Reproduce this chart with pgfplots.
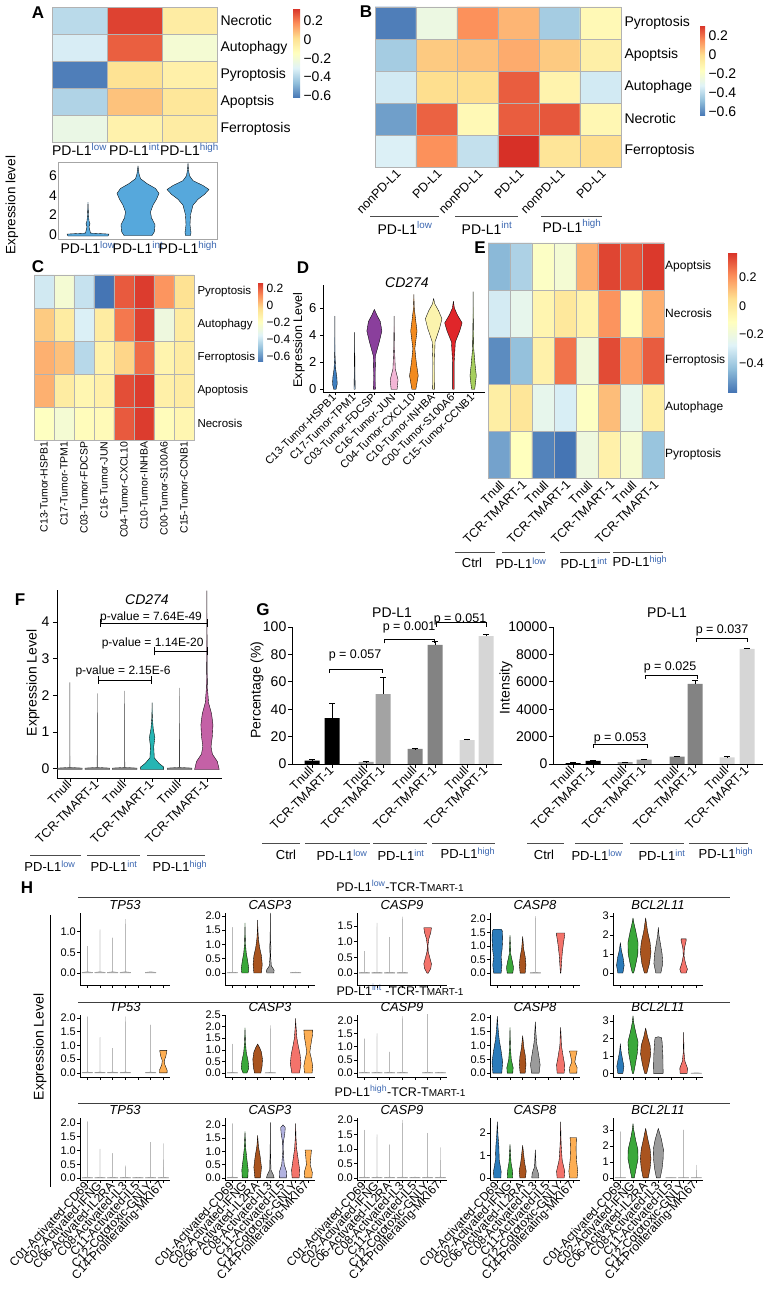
\documentclass[border=0pt]{standalone}
\usepackage{fontspec}
\setmainfont{Liberation Sans}
\usepackage{pgfplots}
\pgfplotsset{compat=1.18}
\usetikzlibrary{calc}

\definecolor{supblue}{HTML}{3A66B0}
\definecolor{vA}{HTML}{56A8DC}
\definecolor{d1}{HTML}{3F7FBF}
\definecolor{d2}{HTML}{A9C4E0}
\definecolor{d3}{HTML}{8A3F9C}
\definecolor{d4}{HTML}{F3B6D6}
\definecolor{d5}{HTML}{F28A1E}
\definecolor{d6}{HTML}{FBF3AD}
\definecolor{d7}{HTML}{E0262A}
\definecolor{d8}{HTML}{A6CF5D}
\definecolor{fteal}{HTML}{26B5B3}
\definecolor{fmag}{HTML}{C461A6}
\definecolor{hb}{HTML}{2B7BBA}
\definecolor{hg}{HTML}{3AA83A}
\definecolor{hbr}{HTML}{A9541F}
\definecolor{hgr}{HTML}{9B9B9B}
\definecolor{hl}{HTML}{B2B2E0}
\definecolor{hs}{HTML}{F3736B}
\definecolor{ho}{HTML}{FDAE53}
\definecolor{glow}{HTML}{A3A3A3}
\definecolor{gint}{HTML}{838383}
\definecolor{ghigh}{HTML}{D6D6D6}

\newcommand\Y[1]{\the\numexpr1291-#1\relax}
\newcommand\fs[1]{\fontsize{#1}{#1}\selectfont}
\newcommand\pdl[1]{PD-L1\textsuperscript{\color{supblue}#1}}

% violin: [draw opts]{position}{fill}{y/halfwidth list}
\newcommand\violin[4][draw=black]{%
  \gdef\vR{}\gdef\vL{}\gdef\vF{}%
  \foreach \yy/\ww in {#4}{%
    \pgfmathsetmacro\xr{#2+\ww}\pgfmathsetmacro\xl{#2-\ww}%
    \ifx\vF\empty\xdef\vF{(\xr,\yy)}\fi
    \xdef\vR{\vR(\xr,\yy)}\xdef\vL{(\xl,\yy)\vL}}%
  \edef\vtmp{\noexpand\addplot[#1,fill=#3,line width=0.35pt,line join=round] coordinates {\vR\vL\vF};}\vtmp}
\newcommand\thn[2]{\violin[draw=gray!80]{#1}{gray!60}{0/0.42,0.015/0.42,0.03/0.005,#2/0}}
\newcommand\thnF[2]{\violin[draw=black!75]{#1}{black!50}{-0.02/0.45,0.02/0.45,0.04/0.005,#2/0}}

\pgfplotsset{
  /pgf/number format/assume math mode=true,
  colormap={rdylbu}{rgb255=(69,117,180) rgb255=(145,191,219) rgb255=(224,243,248) rgb255=(255,255,191) rgb255=(254,224,144) rgb255=(252,141,89) rgb255=(215,48,39)},
  heat/.style={scale only axis, anchor=south west, enlargelimits=false,
    axis line style={gray!60, line width=0.7pt}, yticklabel pos=right,
    major tick length=0pt, minor tick length=0pt, xminorgrids, yminorgrids,
    minor grid style={gray!60, line width=0.7pt}, axis on top, colormap name=rdylbu},
  cb/.style={at={(parent axis.north east)}, anchor=north west, axis line style={draw=none},
    major tick length=0pt, ytick={-0.6,-0.4,-0.2,0,0.2}, yticklabels={−0.6,−0.4,−0.2,0,0.2}},
  hax/.style={scale only axis, anchor=south west, width=90pt, xmin=0.42, xmax=7.53,
    axis lines*=left, axis line style={line width=0.7pt}, tick align=outside,
    major tick length=3pt, xtick={1,...,7}, xticklabels={}, tick style={black, line width=0.6pt},
    yticklabel style={font=\fs{11}, inner sep=1pt},
    title style={font=\fs{13}\itshape, at={(0.5,1)}, anchor=south, yshift=-4pt, inner sep=1pt}},
  dec/.style={yticklabel style={/pgf/number format/fixed, /pgf/number format/fixed zerofill, /pgf/number format/precision=1}},
  hlab/.style={xticklabels={C01-Activated-CD69,C02-Activated-IFNG,C06-Activated-IL2RA,C08-Activated-IL3,C11-Activated-IL5,C12-Cototoxic-GNLY,C14-Proliferating-MKI67},
    xticklabel style={rotate=47, anchor=east, font=\fs{12}, inner sep=1pt}},
  gbar/.style={scale only axis, anchor=south west, width=210pt, height=137pt, xmin=0, xmax=210,
    axis lines*=left, axis line style={line width=0.8pt}, tick align=outside, major tick length=4pt,
    tick style={black, line width=0.7pt}, clip=false, tick label style={font=\fs{14}},
    xticklabels={Tnull,TCR-TMART-1,Tnull,TCR-TMART-1,Tnull,TCR-TMART-1,Tnull,TCR-TMART-1},
    xticklabel style={rotate=45, anchor=east, font=\fs{12.5}, inner sep=1pt}},
  gb/.style={ybar, bar shift=0pt, bar width=15, draw=none, fill=#1,
    error bars/.cd, y dir=plus, y explicit, error bar style={black, line width=0.8pt},
    error mark options={rotate=90, black, mark size=3pt, line width=0.8pt}},
}

\begin{document}
\begin{tikzpicture}[x=1pt,y=1pt]
\useasboundingbox (0,0) rectangle (769,1291);

% ---------------- Panel letters
\node[font=\fs{17}\bfseries] at (38,\Y{13}) {A};
\node[font=\fs{17}\bfseries] at (366,\Y{12}) {B};
\node[font=\fs{17}\bfseries] at (38,\Y{267}) {C};
\node[font=\fs{17}\bfseries] at (303,\Y{268}) {D};
\node[font=\fs{17}\bfseries] at (480,\Y{248}) {E};
\node[font=\fs{17}\bfseries] at (20,\Y{600}) {F};
\node[font=\fs{17}\bfseries] at (263,\Y{610}) {G};
\node[font=\fs{17}\bfseries] at (27,\Y{888}) {H};

% ---------------- A heatmap
\begin{axis}[heat, at={(52pt,\Y{142}pt)}, width=165pt, height=135pt,
  xmin=-0.5, xmax=2.5, ymin=-0.5, ymax=4.5, point meta min=-0.62, point meta max=0.33,
  xtick={0,1,2}, xticklabels={\pdl{low},\pdl{int},\pdl{high}},
  ytick={0,...,4}, yticklabels={Ferroptosis,Apoptsis,Pyroptosis,Autophagy,Necrotic},
  minor xtick={0.5,1.5}, minor ytick={0.5,1.5,2.5,3.5},
  tick label style={font=\fs{14}}, xticklabel style={inner sep=1pt},
  colorbar, colorbar style={cb, xshift=67.5pt, yshift=-1pt, width=7pt, height=90pt, yticklabel style={font=\fs{14}}}]
\addplot[matrix plot*, mesh/cols=3, point meta=explicit] table[meta=v] {
x y v
0 0 -0.25
1 0 -0.08
2 0 -0.05
0 1 -0.40
1 1 0.07
2 1 -0.02
0 2 -0.60
1 2 0.00
2 2 -0.07
0 3 -0.32
1 3 0.25
2 3 -0.20
0 4 -0.38
1 4 0.30
2 4 -0.05
};
\end{axis}

% ---------------- A violin
\node[rotate=90, font=\fs{13.5}] at (12,\Y{205}) {Expression level};
\begin{axis}[scale only axis, anchor=south west, at={(58pt,\Y{239}pt)}, width=159pt, height=77pt,
  xmin=0.4, xmax=3.58, ymin=-0.45, ymax=7.4,
  axis line style={gray!70, line width=0.8pt}, xtick={1,2,3}, xticklabels={\pdl{low},\pdl{int},\pdl{high}},
  ytick={0,2,4,6}, major tick length=0pt, tick label style={font=\fs{14}},
  yticklabel style={inner sep=1pt}, xticklabel style={inner sep=2pt}]
\violin{1}{vA}{-0.15/0.4,0.05/0.42,0.15/0.05,0.8/0.02,1.1/0.04,1.4/0.02,2.0/0.01,3.3/0}
\violin{2}{vA}{-0.1/0.28,0.3/0.33,1.0/0.34,1.7/0.27,2.3/0.25,3.0/0.3,3.6/0.37,4.2/0.42,4.7/0.35,5.2/0.18,5.7/0.05,6.2/0.02,7.0/0}
\violin{3}{vA}{-0.1/0.05,0.2/0.06,1.0/0.04,2.0/0.05,3.0/0.1,3.6/0.2,4.1/0.33,4.6/0.42,5.0/0.3,5.5/0.1,6.0/0.03,6.6/0.01,7.3/0}
\end{axis}

% ---------------- B heatmap
\begin{axis}[heat, at={(375pt,\Y{167}pt)}, width=246pt, height=160pt,
  xmin=-0.5, xmax=5.5, ymin=-0.5, ymax=4.5, point meta min=-0.64, point meta max=0.316,
  xtick={0,...,5}, xticklabels={nonPD-L1,PD-L1,nonPD-L1,PD-L1,nonPD-L1,PD-L1},
  xticklabel style={rotate=45, anchor=north east, font=\fs{12.5}, inner sep=1pt},
  ytick={0,...,4}, yticklabels={Ferroptosis,Necrotic,Autophage,Apoptsis,Pyroptosis},
  yticklabel style={font=\fs{14}},
  minor xtick={0.5,1.5,2.5,3.5,4.5}, minor ytick={0.5,1.5,2.5,3.5},
  colorbar, colorbar style={cb, xshift=70.5pt, yshift=-18pt, width=5pt, height=91pt, yticklabel style={font=\fs{14}}}]
\addplot[matrix plot*, mesh/cols=6, point meta=explicit] table[meta=v] {
x y v
0 0 -0.33
1 0 0.15
2 0 -0.38
3 0 0.32
4 0 -0.03
5 0 0.00
0 1 -0.55
1 1 0.23
2 1 -0.13
3 1 0.24
4 1 0.25
5 1 -0.12
0 2 -0.35
1 2 0.00
2 2 0.00
3 2 0.24
4 2 -0.10
5 2 -0.35
0 3 -0.44
1 3 0.04
2 3 0.06
3 3 0.10
4 3 0.04
5 3 -0.08
0 4 -0.62
1 4 -0.26
2 4 0.15
3 4 0.08
4 4 -0.44
5 4 -0.13
};
\end{axis}
\draw[black!70, line width=0.8pt] (370,\Y{216}) -- (439,\Y{216});
\draw[black!70, line width=0.8pt] (455,\Y{216}) -- (518,\Y{216});
\draw[black!70, line width=0.8pt] (541,\Y{216}) -- (602,\Y{216});
\node[font=\fs{14}] at (405,\Y{228}) {\pdl{low}};
\node[font=\fs{14}] at (487,\Y{228}) {\pdl{int}};
\node[font=\fs{14}] at (572,\Y{226}) {\pdl{high}};

% ---------------- C heatmap
\begin{axis}[heat, at={(34pt,\Y{440}pt)}, width=160pt, height=165pt,
  xmin=-0.5, xmax=7.5, ymin=-0.5, ymax=4.5, point meta min=-0.66, point meta max=0.27,
  xtick={0,...,7}, xticklabels={C13-Tumor-HSPB1,C17-Tumor-TPM1,C03-Tumor-FDCSP,C16-Tumor-JUN,C04-Tumor-CXCL10,C10-Tumor-INHBA,C00-Tumor-S100A6,C15-Tumor-CCNB1},
  xticklabel style={rotate=90, anchor=east, font=\fs{10.5}, inner sep=1.5pt},
  ytick={0,...,4}, yticklabels={Necrosis,Apoptosis,Ferroptosis,Autophagy,Pyroptosis},
  yticklabel style={font=\fs{11.5}},
  minor xtick={0.5,1.5,2.5,3.5,4.5,5.5,6.5}, minor ytick={0.5,1.5,2.5,3.5},
  colorbar, colorbar style={cb, xshift=55.5pt, yshift=-7pt, width=5pt, height=80pt, yticklabel style={font=\fs{12}}}]
\addplot[matrix plot*, mesh/cols=8, point meta=explicit] table[meta=v] {
x y v
0 0 -0.20
1 0 -0.25
2 0 -0.18
3 0 -0.17
4 0 0.20
5 0 0.25
6 0 -0.18
7 0 -0.15
0 1 0.05
1 1 -0.10
2 1 -0.15
3 1 -0.12
4 1 0.22
5 1 0.25
6 1 -0.12
7 1 -0.10
0 2 0.05
1 2 0.02
2 2 -0.43
3 2 -0.13
4 2 -0.02
5 2 0.17
6 2 -0.14
7 2 -0.10
0 3 0.00
1 3 -0.10
2 3 -0.36
3 3 -0.10
4 3 0.15
5 3 0.24
6 3 -0.28
7 3 -0.10
0 4 -0.38
1 4 -0.25
2 4 -0.40
3 4 -0.66
4 4 0.20
5 4 0.25
6 4 0.10
7 4 -0.05
};
\end{axis}

% ---------------- D violin
\node[rotate=90, font=\fs{12.5}] at (299,\Y{340}) {Expression Level};
\node[font=\fs{14}\itshape] at (407,\Y{283}) {CD274};
\begin{axis}[scale only axis, anchor=south west, at={(323pt,\Y{392}pt)}, width=162pt, height=107pt,
  xmin=0.4, xmax=8.6, ymin=-0.2, ymax=7.7, axis lines*=left, axis line style={line width=0.7pt},
  tick align=outside, major tick length=3pt, tick style={black, line width=0.6pt},
  xtick={1,...,8}, ytick={0,2,4,6}, tick label style={font=\fs{13}},
  xticklabels={C13-Tumor-HSPB1,C17-Tumor-TPM1,C03-Tumor-FDCSP,C16-Tumor-JUN,C04-Tumor-CXCL10,C10-Tumor-INHBA,C00-Tumor-S100A6,C15-Tumor-CCNB1},
  xticklabel style={rotate=45, anchor=east, font=\fs{11}, inner sep=1pt}]
\violin{1}{d1}{0/0.06,0.4/0.12,0.9/0.1,1.5/0.04,2.5/0.01,5.4/0}
\violin{2}{d2}{0/0.03,1/0.02,4.2/0}
\violin{3}{d3}{0/0.05,1/0.04,2.5/0.06,3.5/0.25,4.3/0.38,5/0.3,5.5/0.12,5.9/0}
\violin{4}{d4}{0/0.15,0.7/0.2,1.5/0.06,3/0.02,5.4/0}
\violin{5}{d5}{0/0.1,1/0.22,2/0.12,3/0.05,4.3/0.16,5/0.1,6/0.02,7/0}
\violin{6}{d6}{0/0.05,2/0.04,3.5/0.07,4.5/0.3,5.2/0.42,5.8/0.25,6.3/0.06,6.7/0}
\violin{7}{d7}{0/0.04,2/0.04,3.5/0.1,4.3/0.32,4.9/0.44,5.5/0.2,6/0.05,6.5/0}
\violin{8}{d8}{0/0.08,1/0.16,1.8/0.1,3/0.03,5/0.01,7.2/0}
\end{axis}

% ---------------- E heatmap
\begin{axis}[heat, at={(488pt,\Y{478}pt)}, width=176pt, height=235pt,
  xmin=-0.5, xmax=7.5, ymin=-0.5, ymax=4.5, point meta min=-0.6, point meta max=0.376,
  xtick={0,...,7}, xticklabels={Tnull,TCR-TMART-1,Tnull,TCR-TMART-1,Tnull,TCR-TMART-1,Tnull,TCR-TMART-1},
  xticklabel style={rotate=45, anchor=north east, font=\fs{12.5}, inner sep=1pt},
  ytick={0,...,4}, yticklabels={Pyroptosis,Autophage,Ferroptosis,Necrosis,Apoptsis},
  yticklabel style={font=\fs{12}, inner sep=1pt},
  minor xtick={0.5,1.5,2.5,3.5,4.5,5.5,6.5}, minor ytick={0.5,1.5,2.5,3.5},
  colorbar, colorbar style={cb, xshift=55.5pt, yshift=-9pt, width=9pt, height=140pt,
    ytick={-0.4,-0.2,0,0.2}, yticklabels={−0.4,−0.2,0,0.2}, yticklabel style={font=\fs{12.5}, inner sep=2pt}}]
\addplot[matrix plot*, mesh/cols=8, point meta=explicit] table[meta=v] {
x y v
0 0 -0.50
1 0 -0.11
2 0 -0.57
3 0 -0.60
4 0 -0.20
5 0 -0.04
6 0 -0.16
7 0 -0.42
0 1 -0.02
1 1 0.02
2 1 -0.24
3 1 -0.29
4 1 -0.12
5 1 0.12
6 1 -0.24
7 1 -0.02
0 2 -0.55
1 2 -0.43
2 2 -0.04
3 2 0.26
4 2 -0.19
5 2 0.33
6 2 0.18
7 2 0.30
0 3 -0.30
1 3 -0.24
2 3 -0.06
3 3 0.01
4 3 -0.05
5 3 0.20
6 3 -0.10
7 3 0.15
0 4 -0.45
1 4 -0.38
2 4 -0.13
3 4 -0.17
4 4 0.15
5 4 0.34
6 4 0.31
7 4 0.36
};
\end{axis}
\draw[black!70, line width=0.8pt] (455,\Y{552}) -- (495,\Y{552});
\draw[black!70, line width=0.8pt] (502,\Y{552}) -- (545,\Y{552});
\draw[black!70, line width=0.8pt] (560,\Y{552}) -- (610,\Y{552});
\draw[black!70, line width=0.8pt] (613,\Y{552}) -- (663,\Y{552});
\node[font=\fs{13}] at (472,\Y{563}) {Ctrl};
\node[font=\fs{13}] at (521,\Y{563}) {\pdl{low}};
\node[font=\fs{13}] at (584,\Y{563}) {\pdl{int}};
\node[font=\fs{13}] at (640,\Y{561}) {\pdl{high}};

% ---------------- F violin
\node[rotate=90, font=\fs{14}] at (33,\Y{683}) {Expression Level};
\node[font=\fs{14}\itshape] at (147,\Y{600}) {CD274};
\begin{axis}[scale only axis, anchor=south west, at={(57pt,\Y{778}pt)}, width=165pt, height=188pt,
  xmin=0.53, xmax=6.55, ymin=-0.25, ymax=4.87, axis lines*=left, axis line style={line width=0.8pt},
  tick align=outside, major tick length=4pt, tick style={black, line width=0.7pt},
  xtick={1,...,6}, ytick={0,...,4}, tick label style={font=\fs{14}}, clip=false,
  xticklabels={Tnull,TCR-TMART-1,Tnull,TCR-TMART-1,Tnull,TCR-TMART-1},
  xticklabel style={rotate=45, anchor=east, font=\fs{12.5}, inner sep=1pt}]
\thnF{1}{2.35}
\thnF{2}{2.05}
\thnF{3}{2.12}
\violin{4}{fteal}{-0.02/0.42,0.05/0.42,0.15/0.25,0.3/0.08,0.6/0.06,0.85/0.1,1.1/0.04,1.4/0.01,1.8/0}
\thnF{5}{2.2}
\violin{6}{fmag}{-0.02/0.45,0.2/0.38,0.4/0.2,0.6/0.15,0.9/0.2,1.2/0.22,1.5/0.17,1.8/0.06,2.2/0.02,2.7/0.01,4.85/0}
\draw[line width=0.8pt] (2.1,3.97) -- (6,3.97) (2.1,3.86) -- (2.1,4.08) (6,3.86) -- (6,4.08);
\node[font=\fs{12}] at (3.96,4.13) {p-value = 7.64E-49};
\draw[line width=0.8pt] (4.07,3.2) -- (6,3.2) (4.07,3.09) -- (4.07,3.31) (6,3.09) -- (6,3.31);
\node[font=\fs{12}] at (4.02,3.42) {p-value = 1.14E-20};
\draw[line width=0.8pt] (2.05,2.42) -- (3.98,2.42) (2.05,2.31) -- (2.05,2.53) (3.98,2.31) -- (3.98,2.53);
\node[font=\fs{12}] at (2.94,2.64) {p-value = 2.15E-6};
\end{axis}
\draw[black!70, line width=0.8pt] (30,\Y{855}) -- (81,\Y{855});
\draw[black!70, line width=0.8pt] (87,\Y{855}) -- (140,\Y{855});
\draw[black!70, line width=0.8pt] (147,\Y{855}) -- (205,\Y{855});
\node[font=\fs{13}] at (50,\Y{866}) {\pdl{low}};
\node[font=\fs{13}] at (114,\Y{866}) {\pdl{int}};
\node[font=\fs{13}] at (180,\Y{866}) {\pdl{high}};

% ---------------- G left
\node[rotate=90, font=\fs{14}] at (257,\Y{690}) {Percentage (\%)};
\node[font=\fs{14}] at (392,\Y{613}) {PD-L1};
\begin{axis}[gbar, at={(292pt,\Y{764}pt)}, ymin=0, ymax=100, ytick={0,20,...,100},
  xtick={20,40,74,91,123,143,175,194}, yticklabel style={inner sep=1.5pt}]
\addplot[gb=black] coordinates {(20,2.5) +- (0,0.5) (40,33.5) +- (0,10.5)};
\addplot[gb=glow] coordinates {(74,1.5) +- (0,0.3) (91,51) +- (0,12)};
\addplot[gb=gint] coordinates {(123,11) +- (0,0.3) (143,87) +- (0,2.5)};
\addplot[gb=ghigh] coordinates {(175,17.5) +- (0,0.4) (194,93.4) +- (0,1)};
\draw[line width=0.8pt] (37,66.4) -- (37,69.3) -- (90,69.3) -- (90,66.4);
\node[font=\fs{12.5}] at (63,79) {p = 0.057};
\draw[line width=0.8pt] (92,88.1) -- (92,91) -- (142,91) -- (142,88.1);
\node[font=\fs{12.5}] at (117,100) {p = 0.001};
\draw[line width=0.8pt] (144,100.1) -- (144,103) -- (194,103) -- (194,100.1);
\node[font=\fs{12.5}] at (168,105.5) {p = 0.051};
\end{axis}

% ---------------- G right
\node[rotate=90, font=\fs{14}] at (506,\Y{688}) {Intensity};
\node[font=\fs{14}] at (667,\Y{613}) {PD-L1};
\begin{axis}[gbar, at={(553pt,\Y{764}pt)}, ymin=0, ymax=10000, ytick={0,2000,...,10000},
  scaled y ticks=false, yticklabel style={/pgf/number format/1000 sep={}, inner sep=1.5pt},
  xtick={20,40,72,91,124,142,174,194}]
\addplot[gb=black] coordinates {(20,70) +- (0,20) (40,220) +- (0,30)};
\addplot[gb=glow] coordinates {(72,130) +- (0,20) (91,310) +- (0,30)};
\addplot[gb=gint] coordinates {(124,540) +- (0,40) (142,5840) +- (0,230)};
\addplot[gb=ghigh] coordinates {(174,490) +- (0,30) (194,8394) +- (0,60)};
\draw[line width=0.8pt] (40,1170) -- (40,1460) -- (94,1460) -- (94,1170);
\node[font=\fs{12.5}] at (67,1900) {p = 0.053};
\draw[line width=0.8pt] (92,6210) -- (92,6500) -- (144,6500) -- (144,6210);
\node[font=\fs{12.5}] at (117,7080) {p = 0.025};
\draw[line width=0.8pt] (143,8910) -- (143,9200) -- (194,9200) -- (194,8910);
\node[font=\fs{12.5}] at (169,9780) {p = 0.037};
\end{axis}
\foreach \a/\b in {262/300,305/370,373/427,432/495,527/564,575/623,630/684,689/748}
  \draw[black!70, line width=0.8pt] (\a,\Y{843}) -- (\b,\Y{843});
\node[font=\fs{13}] at (286,\Y{855}) {Ctrl};
\node[font=\fs{13}] at (342,\Y{855}) {\pdl{low}};
\node[font=\fs{13}] at (401,\Y{855}) {\pdl{int}};
\node[font=\fs{13}] at (468,\Y{853}) {\pdl{high}};
\node[font=\fs{13}] at (544,\Y{855}) {Ctrl};
\node[font=\fs{13}] at (597,\Y{855}) {\pdl{low}};
\node[font=\fs{13}] at (662,\Y{855}) {\pdl{int}};
\node[font=\fs{13}] at (726,\Y{853}) {\pdl{high}};

% ---------------- H
\node[rotate=90, font=\fs{14}] at (40,\Y{1047}) {Expression Level};
\draw[line width=0.8pt] (50,\Y{915}) -- (50,\Y{1187});
\foreach \yy in {897,1002,1103} \draw[black!75, line width=0.9pt] (78,\Y{\yy}) -- (730,\Y{\yy});
\node[font=\fs{12.5}] at (400,\Y{886}) {\pdl{low}-TCR-T{\fs{10}MART-1}};
\node[font=\fs{12.5}] at (400,\Y{990}) {\pdl{int} -TCR-T{\fs{10}MART-1}};
\node[font=\fs{12.5}] at (400,\Y{1091}) {\pdl{high}-TCR-T{\fs{10}MART-1}};

% Row 1
\begin{axis}[hax, dec, at={(80pt,\Y{985}pt)}, height=72pt, ymin=-0.29, ymax=1.45, ytick={0,0.5,1}, title={TP53}]
\thn{1}{0.65}\thn{2}{1.05}\thn{3}{0.85}\thn{4}{1.3}\thn{6}{0.03}
\end{axis}
\begin{axis}[hax, dec, at={(225pt,\Y{985}pt)}, height=72pt, ymin=-0.42, ymax=2.1, ytick={0,0.5,...,2}, title={CASP3}]
\thn{1}{1.6}
\violin{2}{hg}{0/0.25,0.15/0.3,0.4/0.22,0.7/0.1,1.0/0.04,1.4/0.015,1.75/0}
\violin{3}{hbr}{0/0.3,0.3/0.36,0.6/0.3,0.9/0.15,1.2/0.06,1.5/0.02,1.85/0}
\violin{4}{hgr}{0/0.28,0.1/0.3,0.25/0.08,0.6/0.02,0.9/0.05,1.1/0.02,1.5/0.01,2.1/0}
\thn{6}{0.03}
\end{axis}
\begin{axis}[hax, dec, at={(357pt,\Y{985}pt)}, height=72pt, ymin=-0.38, ymax=1.92, ytick={0,0.5,...,1.5}, title={CASP9}]
\thn{1}{0.7}\thn{2}{1.6}\thn{3}{1.15}\thn{4}{1.8}
\violin{6}{hs}{0/0.05,0.15/0.25,0.3/0.3,0.45/0.2,0.7/0.04,0.9/0.03,1.1/0.1,1.3/0.25,1.45/0.3}
\end{axis}
\begin{axis}[hax, dec, at={(490pt,\Y{985}pt)}, height=72pt, ymin=-0.44, ymax=2.22, ytick={0,0.5,...,2}, title={CASP8}]
\violin{1}{hb}{0/0.3,0.3/0.36,0.6/0.3,0.9/0.38,1.3/0.42,1.55/0.4,1.62/0.3}
\violin{2}{hg}{0/0.22,0.2/0.28,0.4/0.2,0.7/0.06,1.0/0.04,1.4/0}
\violin{3}{hbr}{0/0.2,0.3/0.26,0.6/0.2,0.9/0.08,1.35/0}
\thn{4}{2.1}
\violin{6}{hs}{0/0.02,0.3/0.06,0.7/0.12,1.1/0.22,1.4/0.32,1.48/0.32}
\end{axis}
\begin{axis}[hax, at={(613pt,\Y{985}pt)}, height=72pt, ymin=-0.63, ymax=3.16, ytick={0,1,2,3}, title={BCL2L11}]
\violin{1}{hb}{0/0.2,0.4/0.3,0.8/0.22,1.2/0.08,1.6/0}
\violin{2}{hg}{0/0.05,0.4/0.2,1.0/0.38,1.6/0.4,2.2/0.22,2.6/0.08,2.9/0}
\violin{3}{hbr}{0/0.1,0.5/0.3,1.1/0.42,1.6/0.35,2.2/0.15,2.9/0}
\violin{4}{hgr}{0/0.2,0.5/0.35,1.0/0.3,1.6/0.15,2.0/0.05,2.4/0}
\violin{6}{hs}{0/0.2,0.2/0.3,0.5/0.15,0.9/0.03,1.3/0.06,1.7/0.2,1.8/0.2}
\end{axis}

% Row 2
\begin{axis}[hax, dec, at={(80pt,\Y{1077}pt)}, height=62pt, ymin=-0.15, ymax=2.11, ytick={0,0.5,...,2}, title={TP53}]
\thn{1}{2.05}\thn{2}{1.3}\thn{3}{0.9}\thn{4}{2.05}\thn{6}{1.75}
\violin{7}{ho}{0/0.3,0.1/0.3,0.3/0.12,0.45/0.08,0.6/0.2,0.8/0.28,0.82/0.28}
\end{axis}
\begin{axis}[hax, dec, at={(225pt,\Y{1077}pt)}, height=62pt, ymin=-0.17, ymax=2.5, ytick={0,0.5,...,2.5}, title={CASP3}]
\thn{1}{1.25}
\violin{2}{hg}{0/0.15,0.2/0.3,0.5/0.25,0.9/0.1,1.3/0.04,1.95/0}
\violin{3}{hbr}{0/0.25,0.3/0.35,0.6/0.38,0.9/0.3,1.1/0.15,1.25/0}
\thn{4}{2.05}
\violin{6}{hs}{0/0.3,0.4/0.42,0.8/0.35,1.2/0.2,1.5/0.1,1.8/0.06,2.1/0.02,2.35/0}
\violin{7}{ho}{0/0.3,0.3/0.35,0.6/0.25,0.9/0.12,1.2/0.2,1.6/0.32,1.85/0.35}
\end{axis}
\begin{axis}[hax, dec, at={(357pt,\Y{1077}pt)}, height=62pt, ymin=-0.15, ymax=2.2, ytick={0,0.5,...,2}, title={CASP9}]
\thn{1}{1.3}\thn{2}{1.5}\thn{3}{0.8}\thn{4}{2.15}\thn{6}{2.3}\thn{7}{0.03}
\end{axis}
\begin{axis}[hax, dec, at={(490pt,\Y{1077}pt)}, height=62pt, ymin=-0.14, ymax=2.1, ytick={0,0.5,...,2}, title={CASP8}]
\violin{1}{hb}{0/0.35,0.4/0.42,0.8/0.3,1.2/0.15,1.6/0.06,2.05/0}
\violin{2}{hg}{0/0.22,0.2/0.25,0.5/0.1,0.9/0.04,1.65/0}
\violin{3}{hbr}{0/0.2,0.3/0.26,0.6/0.22,0.9/0.1,1.35/0}
\violin{4}{hgr}{0/0.3,0.3/0.38,0.7/0.25,1.1/0.1,1.5/0.04,1.85/0}
\violin{6}{hs}{0/0.28,0.3/0.32,0.6/0.2,1.0/0.06,1.3/0.04,1.65/0}
\violin{7}{ho}{0/0.28,0.2/0.3,0.4/0.12,0.6/0.2,0.8/0.3}
\end{axis}
\begin{axis}[hax, at={(613pt,\Y{1077}pt)}, height=62pt, ymin=-0.21, ymax=3.35, ytick={0,1,2,3}, title={BCL2L11}]
\violin{1}{hb}{0/0.2,0.4/0.28,0.9/0.15,1.3/0.05,1.7/0}
\violin{2}{hg}{0/0.05,0.5/0.18,1.2/0.35,1.8/0.4,2.4/0.2,2.9/0.06,3.3/0}
\violin{3}{hbr}{0/0.08,0.5/0.25,1.1/0.4,1.6/0.35,2.1/0.15,2.6/0}
\violin{4}{hgr}{0/0.38,1.0/0.36,1.8/0.3,2.05/0.25,2.1/0}
\violin{6}{hs}{0/0.28,0.3/0.3,0.7/0.1,1.2/0.03,2.35/0}
\thn{7}{0.03}
\end{axis}

% Row 3
\begin{axis}[hax, dec, hlab, at={(80pt,\Y{1180}pt)}, height=62pt, ymin=-0.07, ymax=2.18, ytick={0,0.5,...,2}, title={TP53}]
\thn{1}{2.05}\thn{2}{1.05}\thn{3}{0.9}\thn{4}{0.45}\thn{5}{0.03}\thn{6}{1.3}\thn{7}{1.25}
\end{axis}
\begin{axis}[hax, dec, hlab, at={(225pt,\Y{1180}pt)}, height=62pt, ymin=-0.08, ymax=2.26, ytick={0,0.5,...,2}, title={CASP3}]
\thn{1}{2.05}
\violin{2}{hg}{0/0.22,0.3/0.25,0.7/0.15,1.1/0.06,1.75/0}
\violin{3}{hbr}{0/0.22,0.4/0.3,0.8/0.2,1.2/0.06,1.6/0}
\violin{4}{hgr}{0/0.3,0.1/0.25,0.3/0.05,1.0/0.015,2.1/0}
\violin{5}{hl}{0/0.28,0.2/0.3,0.5/0.1,0.9/0.03,1.4/0.05,1.7/0.15,1.9/0.18,2.0/0}
\violin{6}{hs}{0/0.28,0.3/0.32,0.7/0.2,1.1/0.08,1.5/0.03,2.05/0}
\violin{7}{ho}{0/0.28,0.2/0.32,0.5/0.15,0.8/0.2,1.05/0.25}
\end{axis}
\begin{axis}[hax, dec, hlab, at={(357pt,\Y{1180}pt)}, height=62pt, ymin=-0.07, ymax=2.07, ytick={0,0.5,...,2}, title={CASP9}]
\thn{1}{1.65}\thn{2}{1.5}\thn{3}{1.15}\thn{4}{2.0}\thn{5}{0.03}\thn{6}{1.55}\thn{7}{1.05}
\end{axis}
\begin{axis}[hax, hlab, at={(490pt,\Y{1180}pt)}, height=62pt, ymin=-0.09, ymax=2.67, ytick={0,1,2}, title={CASP8}]
\violin{1}{hb}{0/0.28,0.3/0.3,0.8/0.15,1.4/0.12,1.9/0.05,2.5/0}
\violin{2}{hg}{0/0.22,0.3/0.2,0.7/0.08,1.5/0}
\violin{3}{hbr}{0/0.22,0.3/0.28,0.7/0.15,1.45/0}
\violin{4}{hgr}{0/0.28,0.2/0.25,0.5/0.06,1.25/0}
\violin{6}{hs}{0/0.28,0.3/0.32,0.8/0.12,1.5/0.04,2.5/0}
\violin{7}{ho}{0/0.3,0.3/0.35,0.8/0.25,1.3/0.22,1.8/0.25}
\end{axis}
\begin{axis}[hax, hlab, at={(613pt,\Y{1180}pt)}, height=62pt, ymin=-0.13, ymax=3.75, ytick={0,1,2,3}, title={BCL2L11}]
\thn{1}{2.9}
\violin{2}{hg}{0/0.1,0.6/0.25,1.2/0.4,1.8/0.38,2.4/0.2,3.0/0.06,3.4/0}
\violin{3}{hbr}{0/0.2,0.6/0.35,1.2/0.42,1.8/0.35,2.4/0.18,3.1/0}
\violin{4}{hgr}{0/0.15,0.6/0.3,1.2/0.38,1.8/0.4,2.4/0.25,3.1/0}
\thn{5}{0.03}\thn{6}{3.0}\thn{7}{0.8}
\end{axis}

\end{tikzpicture}
\end{document}
